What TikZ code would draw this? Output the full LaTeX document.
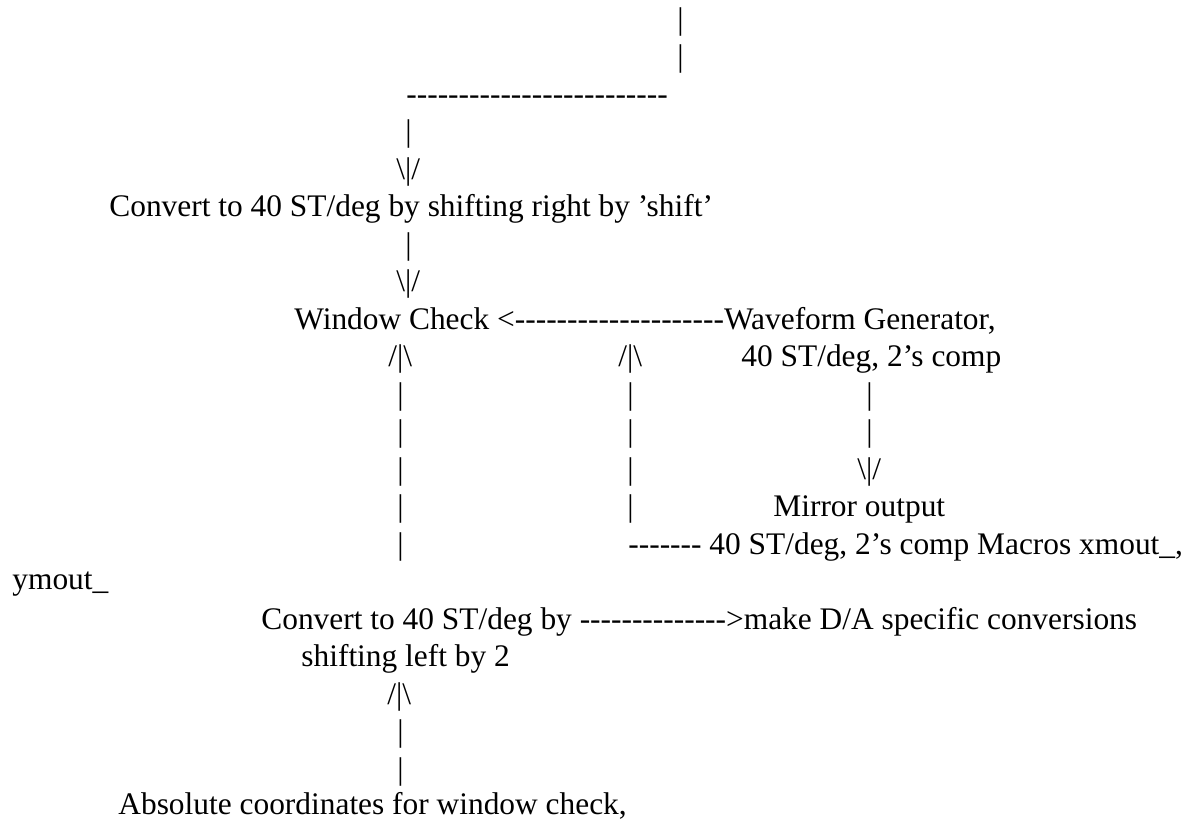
\documentclass[tikz,border=0pt]{standalone}
\usepackage{fontspec}
\setmainfont{Liberation Serif}[Ligatures={TeXOff,CommonOff}]
\newcommand\dnhead{\textbackslash|/}
\newcommand\uphead{/|\textbackslash}
\begin{document}
\begin{tikzpicture}[x=0.5pt,y=-0.5pt,
    txt/.style={anchor=base west,inner sep=0pt,font=\fontsize{15.7}{18}\selectfont}]
  \useasboundingbox (0,0) rectangle (1191,820);
  % top feed
  \node[txt] (top1) at (677,29)   {|};
  \node[txt] (top2) at (677,66.5) {|};
  \node[txt] (hline) at (406,104) {-------------------------};
  \node[txt] (dn1) at (405,141.5) {|};
  \node[txt] (dn1h) at (396,179)  {\dnhead};
  \node[txt] (shiftr) at (109,216.5) {Convert to 40 ST/deg by shifting right by ’shift’};
  \node[txt] (dn2) at (405,254)   {|};
  \node[txt] (dn2h) at (396,291.5) {\dnhead};

  % window check row
  \node[txt] (wcheck) at (294,329) {Window Check <--------------------Waveform Generator,};
  \node[txt] (up1h) at (388,366.5) {\uphead};
  \node[txt] (up2h) at (618,366.5) {\uphead};
  \node[txt] (wgen) at (741,366.5) {40 ST/deg, 2’s comp};
  \node[txt] (ca1) at (397,404)   {|};
  \node[txt] (cb1) at (627,404)   {|};
  \node[txt] (cc1) at (866,404)   {|};
  \node[txt] (ca2) at (397,441.5) {|};
  \node[txt] (cb2) at (627,441.5) {|};
  \node[txt] (cc2) at (866,441.5) {|};
  \node[txt] (ca3) at (397,479)   {|};
  \node[txt] (cb3) at (627,479)   {|};
  \node[txt] (cch) at (857,479)   {\dnhead};
  \node[txt] (ca4) at (397,516.5) {|};
  \node[txt] (cb4) at (627,516.5) {|};
  \node[txt] (mirror) at (773,516.5) {Mirror output};
  \node[txt] (ca5) at (397,554)   {|};
  \node[txt] (macros) at (628,554) {------- 40 ST/deg, 2’s comp Macros xmout\_,};
  \node[txt] (ymout) at (12,589) {ymout\_};

  % bottom
  \node[txt] (shiftl) at (261,629) {Convert to 40 ST/deg by -------------->make D/A specific conversions};
  \node[txt] (shiftl2) at (301,666.5) {shifting left by 2};
  \node[txt] (up3h) at (387,704)  {\uphead};
  \node[txt] (up3a) at (397,741.5) {|};
  \node[txt] (up3b) at (397,779)  {|};
  \node[txt] (abs) at (118,814.5) {Absolute coordinates for window check,};
\end{tikzpicture}
\end{document}
